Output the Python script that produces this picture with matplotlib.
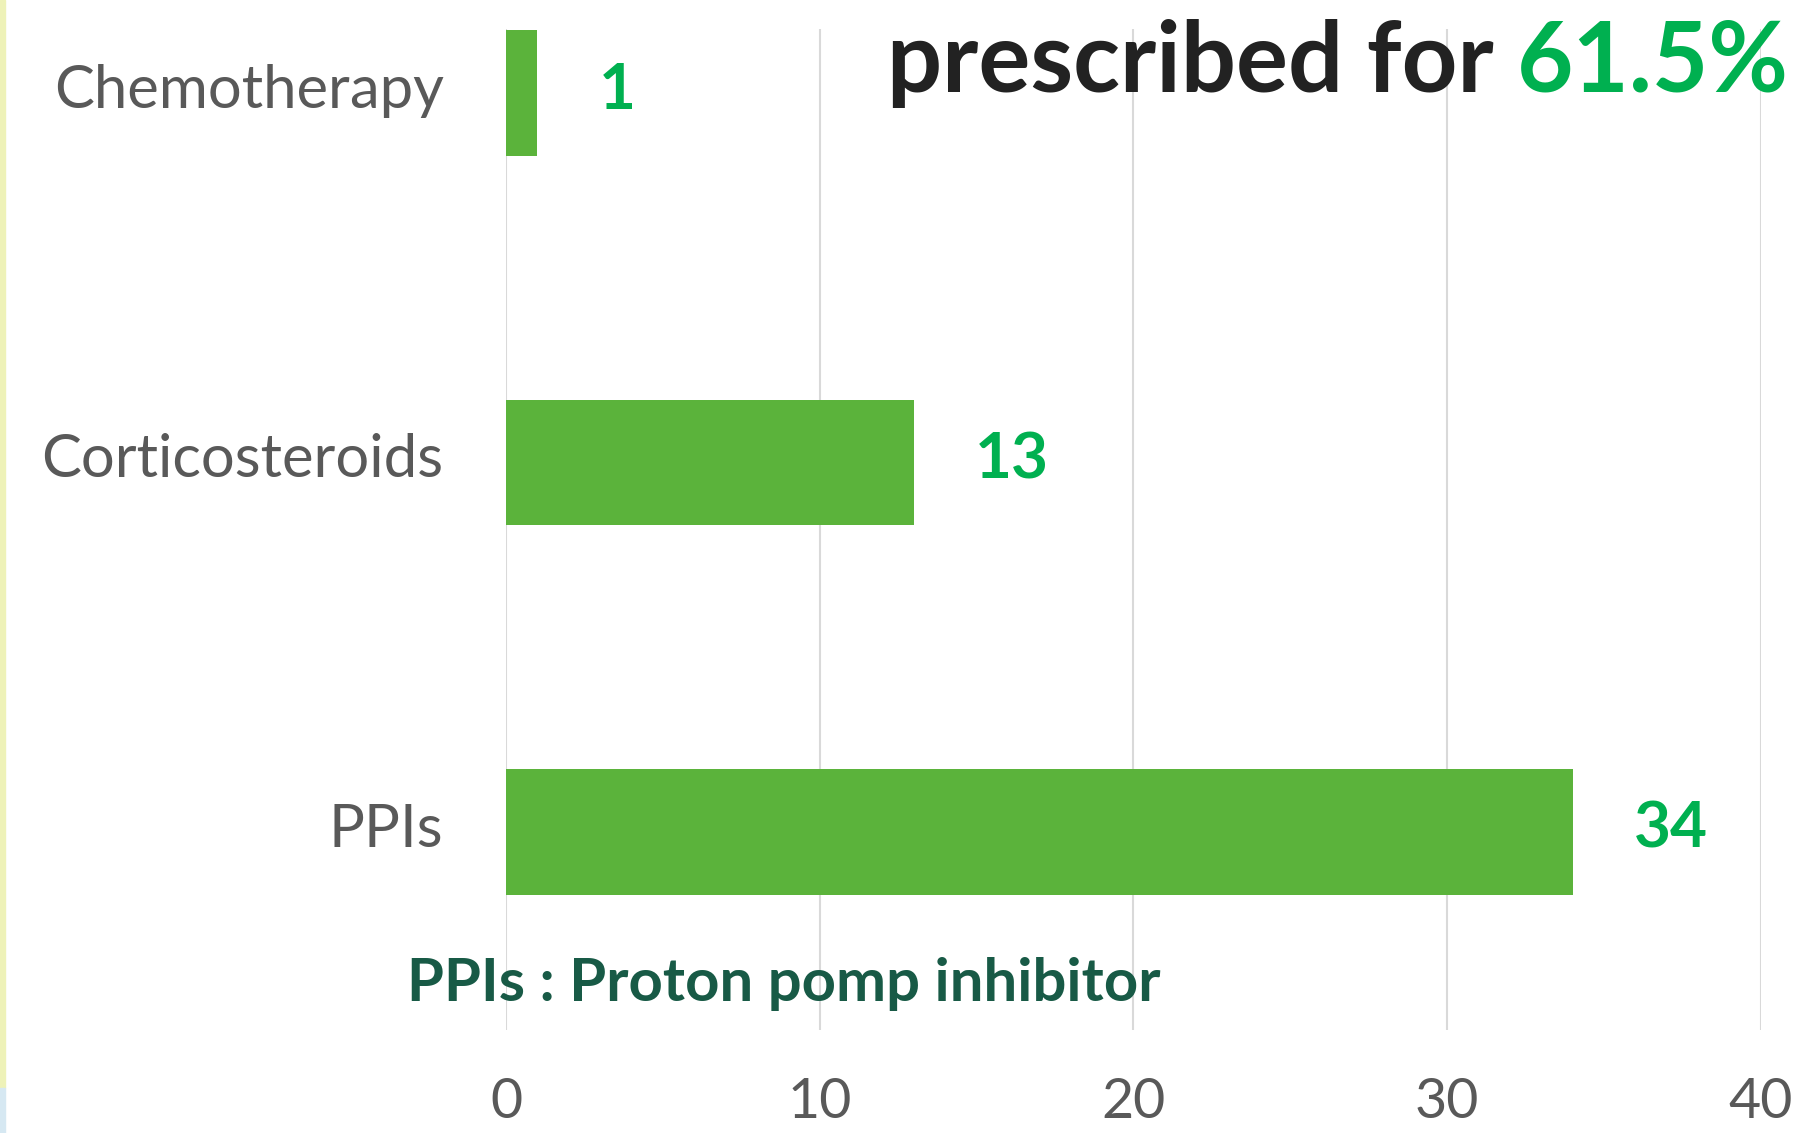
import matplotlib.pyplot as plt
from matplotlib.patches import Rectangle
from matplotlib.transforms import ScaledTranslation

# データ
categories = ['PPIs', 'Corticosteroids', 'Chemotherapy']
counts = [34, 13, 1]
x_ticks = [0, 10, 20, 30, 40]
title_text = 'prescribed for '
title_value = '61.5%'
note_text = 'PPIs : Proton pomp inhibitor'

bar_color = '#5BB33B'
value_color = '#00B050'
label_color = '#595959'

plt.rcParams['font.family'] = ['Lato', 'DejaVu Sans']

fig = plt.figure(figsize=(18.12, 11.33), dpi=100)
ax = fig.add_axes([0.2793, 0.0909, 0.6925, 0.8835])

pos = list(range(len(categories)))
ax.barh(pos, counts, height=0.34, color=bar_color, zorder=3)

# 数値ラベル
for p, c in zip(pos, counts):
    ax.annotate(str(c), xy=(c, p), xytext=(44, 2), textcoords='offset points',
                ha='left', va='center', fontsize=46, fontweight='bold',
                color=value_color)

ax.set_xlim(0, 40)
ax.set_ylim(-0.536, 2.173)
ax.set_xticks(x_ticks)
ax.set_xticklabels([str(t) for t in x_ticks])
ax.set_yticks(pos)
ax.set_yticklabels(categories)
ax.tick_params(axis='x', length=0, pad=34, labelsize=40, labelcolor=label_color)
ax.tick_params(axis='y', length=0, pad=45, labelsize=43, labelcolor=label_color)
# ラベルを少し上へ
shift = ScaledTranslation(0, 5 / 72, fig.dpi_scale_trans)
for lbl in ax.get_yticklabels():
    lbl.set_transform(lbl.get_transform() + shift)
ax.grid(axis='x', color='#D9D9D9', linewidth=1.5, zorder=0)
for s in ax.spines.values():
    s.set_visible(False)

# タイトル
t = fig.text(0.9875, 0.919, title_value, ha='right', va='baseline',
             fontsize=70, fontweight='bold', color=value_color)
ax.annotate(title_text, xy=(0, 0), xycoords=t, ha='right', va='bottom',
            fontsize=70, fontweight='bold', color='#222222')

fig.text(0.2246, 0.1165, note_text, ha='left', va='baseline',
         fontsize=43, fontweight='bold', color='#185A46')

# 左端の帯
fig.patches.append(Rectangle((0, 0.04), 0.0028, 0.96, transform=fig.transFigure,
                             color='#EEF2B8', zorder=0))
fig.patches.append(Rectangle((0, 0), 0.0028, 0.04, transform=fig.transFigure,
                             color='#D6E8F2', zorder=0))

fig.savefig('out.png', dpi=100)
